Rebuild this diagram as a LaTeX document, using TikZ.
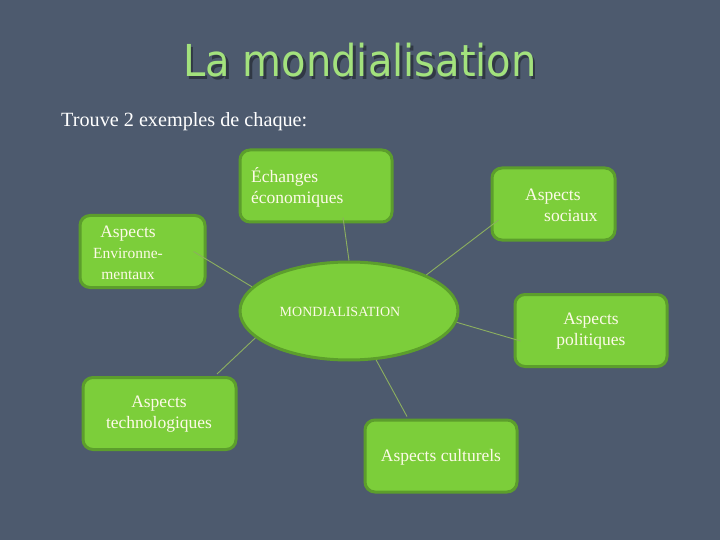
\documentclass[tikz,border=0pt]{standalone}
\usepackage{fontspec}
\setmainfont{Liberation Serif}
\newfontfamily\titlefont{DejaVu Sans}
\usetikzlibrary{shapes.geometric,calc}
\definecolor{bg}{RGB}{77,90,110}
\definecolor{boxfill}{RGB}{124,206,58}
\definecolor{boxline}{RGB}{92,158,44}
\definecolor{linkc}{RGB}{140,175,95}
\definecolor{titlec}{RGB}{163,226,125}
\definecolor{shadowc}{RGB}{48,56,68}
\definecolor{txtc}{RGB}{253,250,232}
\tikzset{
  greenbox/.style={draw=boxline, line width=3pt, fill=boxfill, rounded corners=10pt,
    minimum width=#1, minimum height=72pt, inner sep=0pt},
  greenbox/.default=152pt,
  centre/.style={draw=boxline, line width=3pt, fill=boxfill, ellipse,
    minimum width=218pt, minimum height=98pt, inner sep=0pt},
  boxtext/.style={text=txtc, font=\fontsize{17.5}{21}\selectfont, inner sep=0pt},
  link/.style={draw=linkc, line width=0.9pt}
}
\newcommand\shadowedtitle[1]{\makebox[0pt][l]{\hspace{2.5pt}\raisebox{-2.5pt}{\color{shadowc}\scalebox{1}[1.1]{#1}}}\scalebox{1}[1.1]{#1}}
\begin{document}
\begin{tikzpicture}[x=1pt,y=-1pt]
\fill[bg] (0,0) rectangle (720,540);
\useasboundingbox (0,0) rectangle (720,540);
% title
\node[anchor=base, inner sep=0pt, text=titlec, font=\titlefont\fontsize{40}{44}\selectfont] (title) at (360,77) {\shadowedtitle{La mondialisation}};
\node[anchor=base west, inner sep=0pt, text=white, font=\fontsize{20.2}{23}\selectfont] (consigne) at (61,127) {Trouve 2 exemples de chaque:};
% boxes
\node[greenbox] (ech) at (316,186) {};
\node[greenbox=125pt] (env) at (142.5,251.5) {};
\node[greenbox=123pt] (soc) at (553.5,204) {};
\node[centre] (mond) at (349,311) {};
\node[greenbox] (pol) at (591,330.5) {};
\node[greenbox] (cul) at (441,456) {};
\node[greenbox=153pt] (tech) at (159.5,413.5) {};
% connectors
\draw[link] ([shift={(27,-6)}]ech.south) -- (mond.north);
\draw[link] ([xshift=-13]env.east) -- (mond.166);
\draw[link] ([shift={(8,16)}]soc.west) -- (mond.25);
\draw[link] (mond.-6) -- ([shift={(7,10.5)}]pol.west);
\draw[link] (mond.-61) -- ([shift={(-34,-2)}]cul.north);
\draw[link] (mond.196) -- ([shift={(57.5,-2)}]tech.north);
% texts
\node[boxtext, anchor=west, align=left] (echt) at (251,187) {Échanges\\économiques};
\node[boxtext, align=center] (envt) at (128,253) {Aspects\\{\fontsize{15.5}{20}\selectfont Environne-}\\{\fontsize{15.5}{20}\selectfont mentaux}};
\node[boxtext, anchor=west, align=left] (soct) at (525,205) {Aspects\\\hspace{19pt}sociaux};
\node[boxtext, font=\fontsize{14}{16}\selectfont] (mondt) at (340,312) {MONDIALISATION};
\node[boxtext, align=center] (polt) at (591,331) {Aspects\\politiques};
\node[boxtext] (cult) at (441,457) {Aspects culturels};
\node[boxtext, align=center] (techt) at (159,414.5) {Aspects\\technologiques};
\end{tikzpicture}
\end{document}
